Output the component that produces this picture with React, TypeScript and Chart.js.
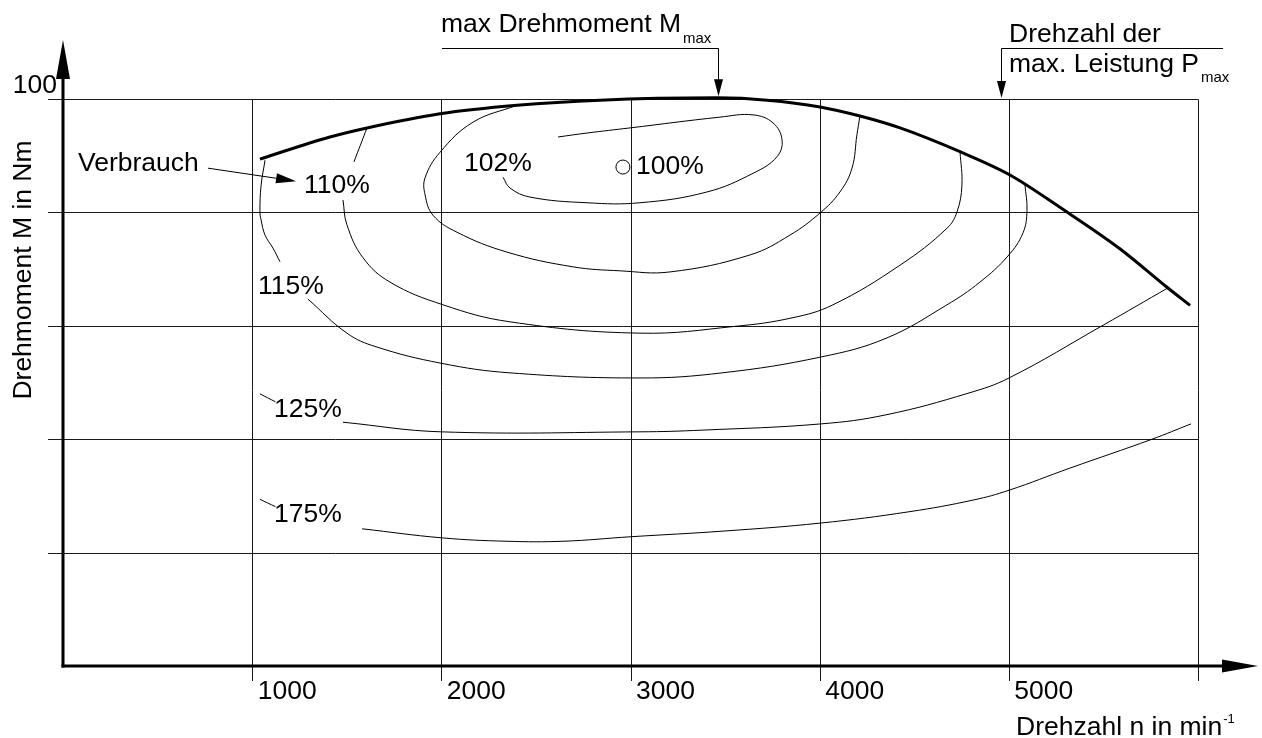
import { useEffect, useRef } from "react";
import { Chart, registerables } from "chart.js";

Chart.register(...registerables);

// Axis ranges and grid
const rpmGrid = [1000, 2000, 3000, 4000, 5000, 6000];
const rpmTickLabels = ["1000", "2000", "3000", "4000", "5000"];
const torqueGrid = [20, 40, 60, 80, 100];
const torqueTickLabel = "100";

// Full-load torque curve (n in min^-1, M in Nm)
const fullLoadRpm = [1041, 1411, 1607, 1993, 2400, 2839, 3460, 3722, 4002, 4213, 4425, 4742, 5006, 5270, 5587, 5836, 5958];
const fullLoadNm = [89.4, 93.3, 94.9, 97.4, 98.9, 99.8, 100.2, 99.8, 98.6, 97.0, 94.9, 90.7, 86.6, 80.9, 73.6, 66.8, 63.6];
const maxTorqueRpm = 3460;
const maxTorqueNm = 100.2;
const maxPowerRpm = 4960;

// Best consumption point (100 %)
const bestPointRpm = [2960];
const bestPointNm = [88.0];

// Consumption contours (relative specific consumption)
const c102Rpm = [2617, 2770, 2997, 3473, 3648, 3753, 3801, 3774, 3648, 3404, 3050, 2770, 2469, 2363, 2326];
const c102Nm = [93.3, 94.0, 94.9, 96.8, 97.2, 95.8, 92.8, 89.8, 86.9, 83.6, 81.7, 81.7, 82.7, 84.3, 86.2];

const c105Rpm = [2400, 2167, 1993, 1914, 1914, 1956, 2083, 2347, 2696, 2944, 3209, 3632, 3843, 4002, 4107, 4171, 4197, 4213];
const c105Nm = [98.9, 95.9, 90.6, 86.1, 83.1, 79.5, 76.5, 73.0, 70.4, 69.7, 69.5, 72.5, 76.0, 79.9, 83.6, 87.8, 93.7, 97.0];

const c110LeaderRpm = [1607, 1538];
const c110LeaderNm = [94.9, 88.9];
const c110Rpm = [1480, 1501, 1586, 1729, 2009, 2363, 3050, 3552, 3854, 4070, 4425, 4673, 4726, 4752, 4742];
const c110Nm = [82.2, 77.8, 72.0, 67.7, 63.7, 60.7, 58.7, 59.9, 61.4, 63.7, 70.7, 77.2, 80.1, 84.8, 90.7];

const c115UpperRpm = [1068, 1047, 1041, 1047, 1068, 1110, 1147];
const c115UpperNm = [89.2, 84.7, 80.1, 78.7, 76.0, 73.7, 71.3];
const c115Rpm = [1295, 1501, 1655, 1998, 2363, 3050, 3484, 4007, 4351, 4673, 4847, 4995, 5075, 5096, 5085];
const c115Nm = [64.7, 58.7, 56.3, 53.4, 51.7, 50.8, 51.7, 54.5, 57.8, 63.7, 67.7, 72.3, 76.4, 80.4, 84.9];

const c125LeaderRpm = [1041, 1123];
const c125LeaderNm = [48.0, 46.6];
const c125Rpm = [1480, 1998, 3050, 3378, 4007, 4351, 4784, 5001, 5498, 5847];
const c125Nm = [43.0, 41.3, 41.3, 41.6, 42.7, 44.3, 48.1, 50.8, 60.1, 66.8];

const c175LeaderRpm = [1041, 1123];
const c175LeaderNm = [29.4, 28.1];
const c175Rpm = [1581, 2004, 2347, 2643, 3003, 3494, 4002, 4472, 4816, 5001, 5323, 5757, 5963];
const c175Nm = [24.2, 22.6, 22.0, 22.0, 22.8, 23.8, 25.2, 27.2, 29.3, 31.0, 34.9, 40.0, 42.7];

// Contour labels: text with its anchor (left end of the baseline) in data units
const contourLabels = ["110%", "115%", "125%", "175%", "102%", "100%"];
const contourLabelRpm = [1274, 1031, 1115, 1115, 2120, 3029];
const contourLabelNm = [83.4, 65.6, 43.9, 25.4, 87.3, 86.8];

const FAMILY = '"Liberation Sans", Arial, Helvetica, sans-serif';
const font = (size: number) => `${size}px ${FAMILY}`;
const TEXT_SIZE = 26.5;

const pts = (xs: number[], ys: number[]) => xs.map((x, i) => ({ x, y: ys[i] }));

function thinLine(data: { x: number; y: number }[]) {
  return {
    data,
    showLine: true,
    borderColor: "#000",
    borderWidth: 1,
    pointRadius: 0,
    tension: 0.4,
    clip: false as const,
  };
}

function arrowHead(
  ctx: CanvasRenderingContext2D,
  fromX: number,
  fromY: number,
  tipX: number,
  tipY: number,
  len: number,
  half: number
) {
  const a = Math.atan2(tipY - fromY, tipX - fromX);
  const bx = tipX - len * Math.cos(a);
  const by = tipY - len * Math.sin(a);
  ctx.beginPath();
  ctx.moveTo(tipX, tipY);
  ctx.lineTo(bx + half * Math.sin(a), by - half * Math.cos(a));
  ctx.lineTo(bx - half * Math.sin(a), by + half * Math.cos(a));
  ctx.closePath();
  ctx.fill();
}

const gridPlugin = {
  id: "engineMapGrid",
  beforeDatasetsDraw(chart: any) {
    const { ctx, chartArea } = chart;
    const xs = chart.scales.x;
    const ys = chart.scales.y;
    ctx.save();
    ctx.strokeStyle = "#1a1a1a";
    ctx.lineWidth = 1;
    const right = Math.round(xs.getPixelForValue(6000)) + 0.5;
    for (const v of torqueGrid) {
      const py = Math.round(ys.getPixelForValue(v)) + 0.5;
      ctx.beginPath();
      ctx.moveTo(chartArea.left - 15, py);
      ctx.lineTo(right, py);
      ctx.stroke();
    }
    const top = Math.round(ys.getPixelForValue(100)) + 0.5;
    const bottom = ys.getPixelForValue(0) + 15;
    for (const v of rpmGrid) {
      const px = Math.round(xs.getPixelForValue(v)) + 0.5;
      ctx.beginPath();
      ctx.moveTo(px, top);
      ctx.lineTo(px, bottom);
      ctx.stroke();
    }
    ctx.restore();
  },
};

const annotationPlugin = {
  id: "engineMapAnnotations",
  afterDatasetsDraw(chart: any) {
    const { ctx } = chart;
    const xs = chart.scales.x;
    const ys = chart.scales.y;
    const X = (v: number) => xs.getPixelForValue(v);
    const Y = (v: number) => ys.getPixelForValue(v);
    const x0 = X(0);
    const y0 = Y(0);

    ctx.save();
    ctx.fillStyle = "#000";
    ctx.strokeStyle = "#000";

    // Axes with arrows
    ctx.lineWidth = 3;
    ctx.beginPath();
    ctx.moveTo(x0, y0 + 1.5);
    ctx.lineTo(x0, 78);
    ctx.stroke();
    ctx.beginPath();
    ctx.moveTo(x0 - 1.5, y0);
    ctx.lineTo(1224, y0);
    ctx.stroke();
    arrowHead(ctx, x0, 100, x0, 40, 39, 7);
    arrowHead(ctx, 1200, y0, 1258, y0, 36, 6.5);

    // Tick labels
    ctx.font = font(TEXT_SIZE);
    ctx.textBaseline = "alphabetic";
    ctx.textAlign = "left";
    rpmTickLabels.forEach((t, i) => {
      ctx.fillText(t, X(rpmGrid[i]) + 5.5, y0 + 33);
    });
    ctx.textAlign = "right";
    ctx.fillText(torqueTickLabel, x0 - 6, Y(100) - 6);

    // Axis titles
    ctx.textAlign = "left";
    const xTitle = "Drehzahl n in min";
    ctx.fillText(xTitle, 1016, 735);
    const xTitleW = ctx.measureText(xTitle).width;
    ctx.font = font(13);
    ctx.fillText("-1", 1016 + xTitleW + 1, 723);

    ctx.font = font(TEXT_SIZE);
    ctx.save();
    ctx.translate(31, 270);
    ctx.rotate(-Math.PI / 2);
    ctx.textAlign = "center";
    ctx.fillText("Drehmoment M in Nm", 0, 0);
    ctx.restore();

    // Contour labels
    ctx.textAlign = "left";
    contourLabels.forEach((t, i) => {
      ctx.fillText(t, X(contourLabelRpm[i]), Y(contourLabelNm[i]));
    });

    // "Verbrauch" pointer
    ctx.fillText("Verbrauch", X(79), Y(87.3));
    ctx.lineWidth = 1;
    const vx1 = X(767), vy1 = Y(87.8), vx2 = X(1232), vy2 = Y(85.5);
    ctx.beginPath();
    ctx.moveTo(vx1, vy1);
    ctx.lineTo(vx1 + (vx2 - vx1) * 0.8, vy1 + (vy2 - vy1) * 0.8);
    ctx.stroke();
    arrowHead(ctx, vx1, vy1, vx2, vy2, 20, 5);

    // Max torque marker
    const mtX = Math.round(X(maxTorqueRpm)) + 0.5;
    const leadY = 48.5;
    ctx.beginPath();
    ctx.moveTo(442, leadY);
    ctx.lineTo(mtX, leadY);
    ctx.lineTo(mtX, 82);
    ctx.stroke();
    arrowHead(ctx, mtX, leadY, mtX, Y(maxTorqueNm) - 1.5, 17, 4.5);
    ctx.font = font(TEXT_SIZE);
    const mtText = "max Drehmoment M";
    ctx.fillText(mtText, 441, 32);
    const mtW = ctx.measureText(mtText).width;
    ctx.font = font(15);
    ctx.fillText("max", 441 + mtW + 2, 43);

    // Speed of maximum power marker
    const mpX = Math.round(X(maxPowerRpm)) + 0.5;
    ctx.beginPath();
    ctx.moveTo(1223, leadY);
    ctx.lineTo(mpX, leadY);
    ctx.lineTo(mpX, 82);
    ctx.stroke();
    arrowHead(ctx, mpX, leadY, mpX, Y(100) - 1, 17, 4.5);
    ctx.font = font(TEXT_SIZE);
    ctx.fillText("Drehzahl der", 1009, 42);
    const mpText = "max. Leistung P";
    ctx.fillText(mpText, 1009, 72);
    const mpW = ctx.measureText(mpText).width;
    ctx.font = font(15);
    ctx.fillText("max", 1009 + mpW + 2, 82);

    ctx.restore();
  },
};

export default function App() {
  const canvasRef = useRef<HTMLCanvasElement | null>(null);

  useEffect(() => {
    const canvas = canvasRef.current;
    if (!canvas) return;
    const chart = new Chart(canvas, {
      type: "scatter",
      data: {
        datasets: [
          {
            data: pts(fullLoadRpm, fullLoadNm),
            showLine: true,
            borderColor: "#000",
            borderWidth: 3,
            pointRadius: 0,
            cubicInterpolationMode: "monotone",
            clip: false,
          } as any,
          thinLine(pts(c102Rpm, c102Nm)),
          thinLine(pts(c105Rpm, c105Nm)),
          thinLine(pts(c110LeaderRpm, c110LeaderNm)),
          thinLine(pts(c110Rpm, c110Nm)),
          thinLine(pts(c115UpperRpm, c115UpperNm)),
          thinLine(pts(c115Rpm, c115Nm)),
          thinLine(pts(c125LeaderRpm, c125LeaderNm)),
          thinLine(pts(c125Rpm, c125Nm)),
          thinLine(pts(c175LeaderRpm, c175LeaderNm)),
          thinLine(pts(c175Rpm, c175Nm)),
          {
            data: pts(bestPointRpm, bestPointNm),
            showLine: false,
            pointRadius: 7,
            pointStyle: "circle",
            backgroundColor: "#fff",
            borderColor: "#000",
            borderWidth: 1,
            clip: false,
          } as any,
        ],
      },
      options: {
        animation: false,
        responsive: false,
        devicePixelRatio: 1,
        events: [],
        layout: { padding: { left: 63, right: 64, top: 99, bottom: 72 } },
        scales: {
          x: { type: "linear", min: 0, max: 6000, display: false },
          y: { type: "linear", min: 0, max: 100, display: false },
        },
        plugins: {
          legend: { display: false },
          tooltip: { enabled: false },
        },
      },
      plugins: [gridPlugin, annotationPlugin],
    });
    return () => chart.destroy();
  }, []);

  return (
    <div style={{ position: "absolute", left: 0, top: 0, width: 1262, height: 738, background: "#fff" }}>
      <canvas ref={canvasRef} width={1262} height={738} />
    </div>
  );
}
